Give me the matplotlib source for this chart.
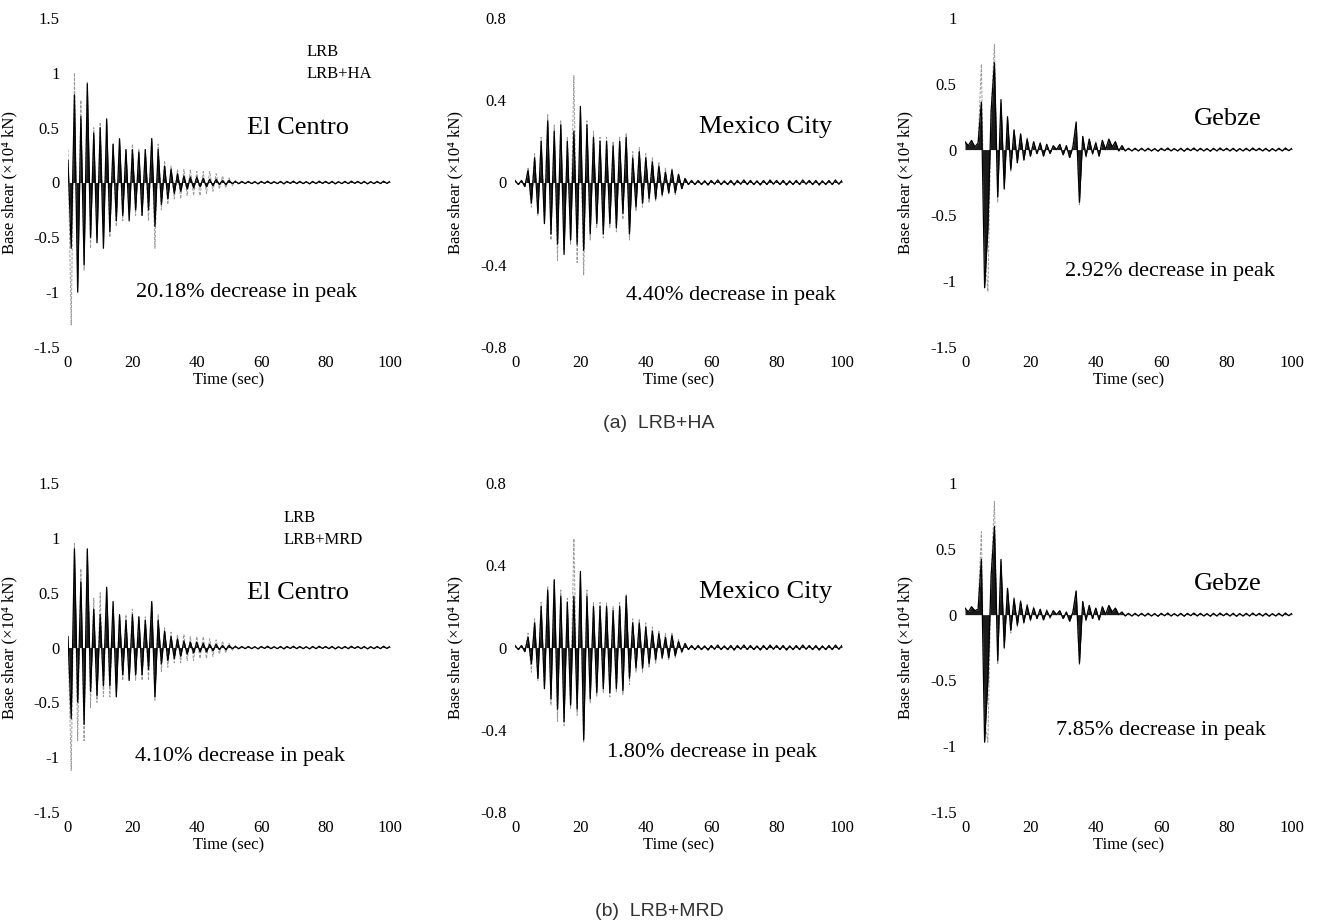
import numpy as np
import matplotlib
matplotlib.use('Agg')
import matplotlib.pyplot as plt
from matplotlib.ticker import FormatStrFormatter

plt.rcParams['font.family'] = ['Liberation Serif', 'DejaVu Serif']
plt.rcParams['axes.unicode_minus'] = False

# peak values, one per second from t = 0 s
elcentro_lrb_a = [0.3, -1.3, 1.0, -0.9, 0.75, -0.8, 0.92, -0.6, 0.5, -0.5,
                  0.55, -0.45, 0.4, -0.5, 0.35, -0.4, 0.35, -0.35, 0.3, -0.3,
                  0.35, -0.3, 0.3, -0.3, 0.3, -0.35, 0.4, -0.6, 0.35, -0.25,
                  0.2, -0.2, 0.15, -0.15, 0.12, -0.15, 0.12, -0.12, 0.12, -0.12,
                  0.1, -0.12, 0.1, -0.1, 0.1, -0.08, 0.08, -0.06, 0.06, -0.05,
                  0.04, -0.03, 0.02, -0.02, 0.01, -0.01]
elcentro_ha = [0.2, -0.6, 0.8, -1.0, 0.6, -0.75, 0.9, -0.5, 0.45, -0.55,
               0.5, -0.6, 0.58, -0.45, 0.35, -0.35, 0.4, -0.3, 0.3, -0.35,
               0.3, -0.25, 0.28, -0.3, 0.3, -0.25, 0.4, -0.4, 0.3, -0.2,
               0.15, -0.15, 0.12, -0.1, 0.08, -0.08, 0.06, -0.06, 0.05, -0.05,
               0.05, -0.04, 0.04, -0.04, 0.03, -0.03, 0.03, -0.02, 0.02, -0.02,
               0.02, -0.01, 0.01, -0.01, 0.01, -0.01]
mexico_lrb_a = [0.01, -0.01, 0.01, -0.02, 0.07, -0.12, 0.14, -0.16, 0.22, -0.2,
                0.33, -0.28, 0.28, -0.38, 0.3, -0.33, 0.22, -0.3, 0.52, -0.39,
                0.3, -0.45, 0.3, -0.28, 0.25, -0.22, 0.22, -0.27, 0.22, -0.22,
                0.2, -0.24, 0.22, -0.18, 0.24, -0.28, 0.15, -0.14, 0.17, -0.12,
                0.14, -0.1, 0.12, -0.09, 0.1, -0.07, 0.07, -0.06, 0.07, -0.06,
                0.04, -0.03, 0.02, -0.01, 0.01, -0.01]
mexico_ha = [0.01, -0.01, 0.01, -0.02, 0.06, -0.1, 0.12, -0.15, 0.2, -0.2,
             0.3, -0.25, 0.25, -0.3, 0.28, -0.35, 0.2, -0.28, 0.25, -0.3,
             0.37, -0.33, 0.28, -0.25, 0.22, -0.2, 0.2, -0.25, 0.2, -0.2,
             0.18, -0.22, 0.2, -0.15, 0.22, -0.25, 0.12, -0.12, 0.15, -0.1,
             0.12, -0.08, 0.1, -0.08, 0.08, -0.06, 0.05, -0.05, 0.06, -0.05,
             0.04, -0.03, 0.02, -0.01, 0.01, -0.01]
gebze_lrb_a = [0.05, 0.02, 0.06, 0.03, 0.04, 0.65, -0.75, -1.08, 0.3, 0.8,
               -0.4, 0.35, -0.28, 0.22, -0.17, 0.15, -0.1, 0.12, -0.08, 0.09,
               -0.05, 0.06, -0.04, 0.05, -0.05, 0.04, -0.03, 0.03, 0.0, 0.04,
               -0.04, 0.03, -0.06, 0.03, 0.2, -0.42, 0.1, -0.06, 0.08, -0.04,
               0.06, -0.05, 0.07, 0.0, 0.08, 0.02, 0.06, -0.01, 0.03, -0.01,
               0.01, -0.01, 0.01, -0.01, 0.01, -0.01]
gebze_ha = [0.06, 0.03, 0.07, 0.02, 0.05, 0.36, -1.05, -0.6, 0.3, 0.66,
            -0.36, 0.38, -0.3, 0.25, -0.15, 0.15, -0.1, 0.12, -0.08, 0.08,
            -0.05, 0.06, -0.03, 0.05, -0.05, 0.04, -0.03, 0.03, 0.0, 0.04,
            -0.04, 0.03, -0.06, 0.02, 0.21, -0.4, 0.1, -0.05, 0.08, -0.03,
            0.05, -0.05, 0.07, 0.0, 0.08, 0.02, 0.06, -0.01, 0.03, -0.01,
            0.01, -0.01, 0.01, -0.01, 0.01, -0.01]

elcentro_lrb_b = [0.1, -1.12, 0.95, -0.85, 0.72, -0.85, 0.88, -0.55, 0.45, -0.5,
                  0.5, -0.45, 0.45, -0.45, 0.35, -0.4, 0.3, -0.3, 0.3, -0.3,
                  0.35, -0.3, 0.28, -0.3, 0.28, -0.3, 0.4, -0.48, 0.3, -0.22,
                  0.18, -0.18, 0.14, -0.14, 0.12, -0.14, 0.12, -0.12, 0.1, -0.12,
                  0.1, -0.1, 0.1, -0.1, 0.08, -0.08, 0.07, -0.06, 0.06, -0.05,
                  0.04, -0.03, 0.02, -0.02, 0.01, -0.01]
elcentro_mrd = [0.1, -0.65, 0.9, -0.5, 0.6, -0.7, 0.9, -0.4, 0.35, -0.44,
                0.3, -0.35, 0.55, -0.35, 0.42, -0.45, 0.3, -0.25, 0.25, -0.3,
                0.3, -0.25, 0.28, -0.25, 0.25, -0.2, 0.42, -0.45, 0.25, -0.15,
                0.15, -0.12, 0.1, -0.1, 0.08, -0.08, 0.06, -0.06, 0.05, -0.05,
                0.05, -0.04, 0.04, -0.04, 0.03, -0.03, 0.03, -0.02, 0.02, -0.02,
                0.02, -0.01, 0.01, -0.01, 0.01, -0.01]
mexico_lrb_b = [0.01, -0.01, 0.01, -0.02, 0.07, -0.12, 0.14, -0.16, 0.22, -0.2,
                0.3, -0.28, 0.33, -0.36, 0.28, -0.38, 0.24, -0.3, 0.53, -0.33,
                0.32, -0.46, 0.28, -0.27, 0.22, -0.24, 0.22, -0.22, 0.22, -0.24,
                0.2, -0.22, 0.22, -0.23, 0.26, -0.18, 0.14, -0.12, 0.14, -0.12,
                0.12, -0.1, 0.1, -0.08, 0.08, -0.06, 0.07, -0.06, 0.07, -0.05,
                0.04, -0.03, 0.02, -0.01, 0.01, -0.01]
mexico_mrd = [0.01, -0.01, 0.01, -0.02, 0.05, -0.08, 0.12, -0.15, 0.2, -0.2,
              0.28, -0.25, 0.33, -0.3, 0.25, -0.36, 0.22, -0.28, 0.25, -0.3,
              0.37, -0.45, 0.25, -0.25, 0.2, -0.22, 0.2, -0.2, 0.2, -0.22,
              0.18, -0.2, 0.2, -0.21, 0.25, -0.15, 0.12, -0.1, 0.12, -0.1,
              0.1, -0.08, 0.08, -0.06, 0.07, -0.05, 0.05, -0.05, 0.06, -0.04,
              0.03, -0.02, 0.02, -0.01, 0.01, -0.01]
gebze_lrb_b = [0.05, 0.02, 0.06, 0.03, 0.04, 0.63, -0.8, -0.97, 0.3, 0.86,
               -0.38, 0.4, -0.26, 0.2, -0.14, 0.13, -0.09, 0.11, -0.07, 0.08,
               -0.05, 0.06, -0.03, 0.05, -0.04, 0.04, -0.03, 0.03, 0.0, 0.03,
               -0.03, 0.02, -0.05, 0.02, 0.18, -0.38, 0.1, -0.05, 0.07, -0.03,
               0.05, -0.04, 0.06, 0.0, 0.07, 0.02, 0.05, 0.0, 0.02, -0.01,
               0.01, -0.01, 0.01, -0.01, 0.01, -0.01]
gebze_mrd = [0.05, 0.02, 0.06, 0.03, 0.04, 0.42, -0.97, -0.5, 0.3, 0.67,
             -0.35, 0.42, -0.25, 0.2, -0.12, 0.12, -0.08, 0.1, -0.06, 0.07,
             -0.04, 0.05, -0.03, 0.04, -0.04, 0.03, -0.02, 0.03, 0.0, 0.03,
             -0.03, 0.02, -0.05, 0.02, 0.18, -0.37, 0.1, -0.04, 0.07, -0.03,
             0.05, -0.04, 0.06, 0.0, 0.07, 0.02, 0.05, 0.0, 0.02, -0.01,
             0.01, -0.01, 0.01, -0.01, 0.01, -0.01]

# small residual vibration after the record ends (56 s .. 100 s)
tail_vals = [0.01, -0.01, 0.008, -0.012, 0.01,
             -0.008, 0.012, -0.01, 0.008, -0.01,
             0.01, -0.012, 0.01, -0.008, 0.012,
             -0.01, 0.01, -0.01, 0.008, -0.012,
             0.01, -0.01, 0.012, -0.008, 0.01,
             -0.01, 0.01, -0.012, 0.008, -0.01,
             0.01, -0.01, 0.012, -0.008, 0.01,
             -0.01, 0.01, -0.012, 0.008, -0.01,
             0.01, -0.01, 0.012, -0.008, 0.01]

quakes = ['El Centro', 'Mexico City', 'Gebze']
ylims = [(-1.5, 1.5), (-0.8, 0.8), (-1.5, 1.0)]
yticks = [[-1.5, -1, -0.5, 0, 0.5, 1, 1.5], [-0.8, -0.4, 0, 0.4, 0.8],
          [-1.5, -1, -0.5, 0, 0.5, 1]]
peak_text_a = ['20.18% decrease in peak', '4.40% decrease in peak', '2.92% decrease in peak']
peak_text_b = ['4.10% decrease in peak', '1.80% decrease in peak', '7.85% decrease in peak']

rows = [
    dict(lrb=[elcentro_lrb_a, mexico_lrb_a, gebze_lrb_a],
         ctl=[elcentro_ha, mexico_ha, gebze_ha],
         legend='LRB+HA', peaks=peak_text_a, caption='(a)  LRB+HA',
         bottom=0.6245, cap_y=1 - 424 / 924),
    dict(lrb=[elcentro_lrb_b, mexico_lrb_b, gebze_lrb_b],
         ctl=[elcentro_mrd, mexico_mrd, gebze_mrd],
         legend='LRB+MRD', peaks=peak_text_b, caption='(b)  LRB+MRD',
         bottom=0.1212, cap_y=1 - 912 / 924),
]

# text positions in data coordinates
name_pos = [(71.5, 0.5), (76.5, 0.27), (80.5, 0.23)]
peak_pos_a = [(55.3, -1.0), (66.0, -0.55), (62.7, -0.93)]
peak_pos_b = [(53.3, -0.99), (60.2, -0.51), (60.0, -0.88)]
legend_pos = [(74.0, 1.19), (67.0, 1.18)]

fig = plt.figure(figsize=(13.18, 9.24), dpi=100)
lefts = [68 / 1318, 515 / 1318, 965 / 1318]
widths = [322 / 1318, 327 / 1318, 327 / 1318]

for r, row in enumerate(rows):
    for c in range(3):
        ax = fig.add_axes([lefts[c], row['bottom'], widths[c], 0.356])
        lrb = np.array(row['lrb'][c] + tail_vals)
        ctl = np.array(row['ctl'][c] + tail_vals)
        t1 = np.arange(len(lrb))
        t2 = np.arange(len(ctl))
        ax.plot(t1, lrb, color='#9a9a9a', lw=0.7,
                linestyle=(0, (3, 1.5)), zorder=1)
        # dense trace: fill the zigzag down to zero so it reads as a dark mass
        ax.fill_between(t2, ctl, 0, color='#1a1a1a', lw=0, zorder=2)
        ax.plot(t2, ctl, color='black', lw=0.9, zorder=3)

        ax.set_xlim(0, 100)
        ax.set_ylim(*ylims[c])
        ax.set_xticks([0, 20, 40, 60, 80, 100])
        ax.set_yticks(yticks[c])
        ax.yaxis.set_major_formatter(FormatStrFormatter('%g'))
        ax.tick_params(length=0, labelsize=12, pad=6)
        for s in ax.spines.values():
            s.set_visible(False)
        ax.set_xlabel('Time (sec)', fontsize=12, labelpad=1)
        ax.set_ylabel('Base shear (×10⁴ kN)', fontsize=12)
        ax.yaxis.set_label_coords(-0.157, 0.5)

        ax.text(*name_pos[c], quakes[c], fontsize=19, ha='center', va='center')
        pp = peak_pos_a[c] if r == 0 else peak_pos_b[c]
        ax.text(*pp, row['peaks'][c], fontsize=16, ha='center', va='center')
        if c == 0:
            lx, ly = legend_pos[r]
            ax.text(lx, ly, 'LRB', fontsize=12, ha='left', va='center')
            ax.text(lx, ly - 0.2, row['legend'], fontsize=12, ha='left', va='center')

    fig.text(0.5, row['cap_y'], row['caption'], fontsize=14, ha='center',
             va='center', family=['Liberation Sans', 'DejaVu Sans'], color='#333333')

fig.savefig('out.png', dpi=100)
